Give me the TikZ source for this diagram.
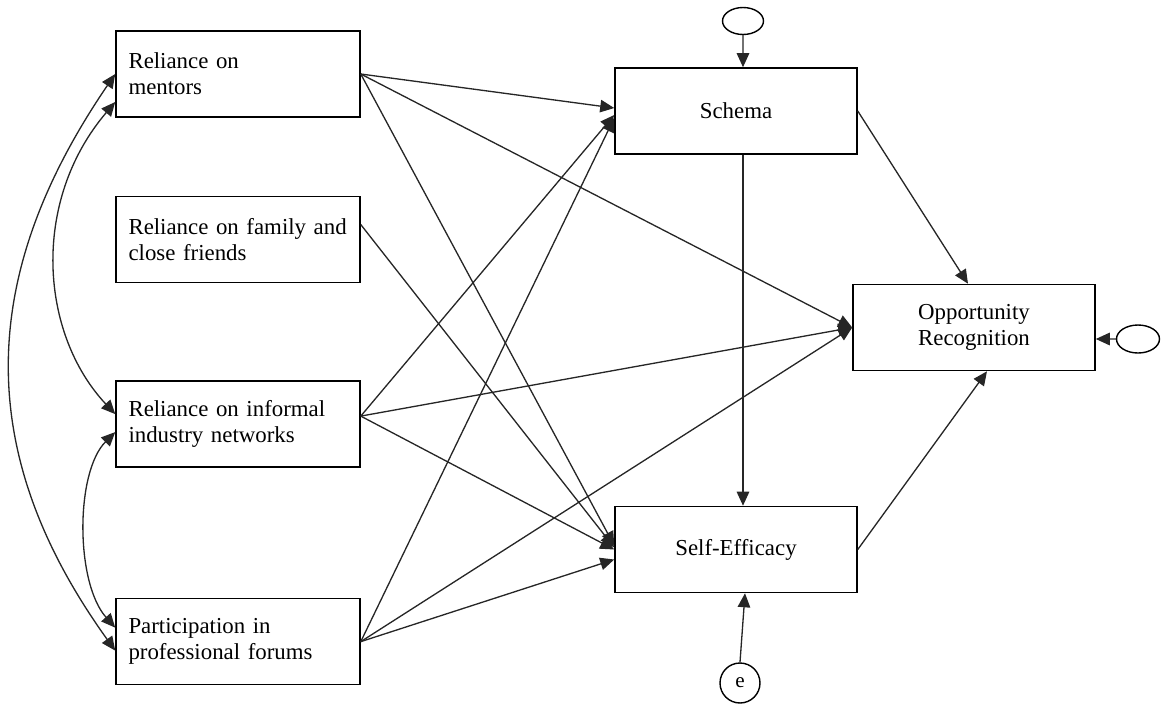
\documentclass[tikz,border=0pt]{standalone}
\usepackage{fontspec}
\setmainfont{Liberation Serif}
\usetikzlibrary{arrows.meta, positioning, shapes.geometric}

\begin{document}
\begin{tikzpicture}[x=0.02cm, y=-0.02cm,
    >={Triangle[length=2.8mm, width=2.5mm]},
    var/.style={draw, line width=0.9pt, minimum width=4.88cm, minimum height=1.72cm, inner xsep=0.25cm, text width=4.38cm, align=left, font=\fontsize{13}{15}\selectfont},
    dep/.style={draw, line width=0.9pt, minimum width=4.84cm, minimum height=1.72cm, align=center, font=\fontsize{13}{15}\selectfont},
    err/.style={draw, ellipse, line width=0.8pt, minimum width=0.82cm, minimum height=0.54cm, inner sep=0pt},
    link/.style={->, line width=0.75pt, black!85},
    corr/.style={<->, line width=0.75pt, black!85}]

\useasboundingbox (0,0) rectangle (1164,704);

% Predictors (left column)
\node[var] (ment) at (238,74) {Reliance on\\ mentors};
\node[var, below=1.56cm of ment] (fam) {Reliance on family and\\ close friends};
\node[var, below=1.94cm of fam] (info) {Reliance on informal\\ industry networks};
\node[var, below=2.6cm of info] (forum) {Participation in\\ professional forums};

% Mediators and outcome
\node[dep] (schema) at (736,111) {Schema};
\node[dep, below=7.02cm of schema] (self) {Self-Efficacy};
\node[dep] (opp) at (974,327.5) {Opportunity\\ Recognition};

% Error terms
\node[err] (e1) at (743,21) {};
\node[err, minimum width=0.86cm, minimum height=0.56cm] (e3) at (1138,339) {};
\node[err, minimum width=0.8cm, minimum height=0.8cm, font=\fontsize{12}{14}\selectfont] (e2) at (740,683) {e};

% Correlations among predictors
\draw[corr] (ment.west) .. controls +(-140,205) and +(-140,-195) .. ([yshift=-0.18cm]forum.west);
\draw[corr] ([yshift=-0.56cm]ment.west) .. controls +(-85,100) and +(-75,-80) .. ([yshift=0.2cm]info.west);
\draw[corr] ([yshift=-0.16cm]info.west) .. controls +(-40,40) and +(-40,-45) .. ([yshift=0.28cm]forum.west);

% Paths from predictors
\draw[link] (ment.east) -- ([yshift=0.06cm]schema.west);
\draw[link] (ment.east) -- (opp.west);
\draw[link] (ment.east) -- ([yshift=0.08cm]self.west);
\draw[link] ([yshift=0.3cm]fam.east) -- ([yshift=0.04cm]self.west);
\draw[link] ([yshift=0.16cm]info.east) -- ([yshift=-0.08cm]schema.west);
\draw[link] ([yshift=0.16cm]info.east) -- (opp.west);
\draw[link] ([yshift=0.16cm]info.east) -- (self.west);
\draw[link] (forum.east) -- ([yshift=-0.14cm]schema.west);
\draw[link] (forum.east) -- (opp.west);
\draw[link] (forum.east) -- ([yshift=-0.2cm]self.west);

% Mediator paths
\draw[link] ([xshift=0.14cm]schema.south) -- ([xshift=0.14cm]self.north);
\draw[link] (schema.east) -- ([xshift=-0.12cm]opp.north);
\draw[link] (self.east) -- ([xshift=0.26cm]opp.south);

% Error terms to variables
\draw[link] (e1.south) -- ([xshift=0.14cm]schema.north);
\draw[link] (e2.north) -- ([xshift=0.18cm]self.south);
\draw[link] (e3.west) -- ([yshift=-0.23cm]opp.east);

\end{tikzpicture}
\end{document}
